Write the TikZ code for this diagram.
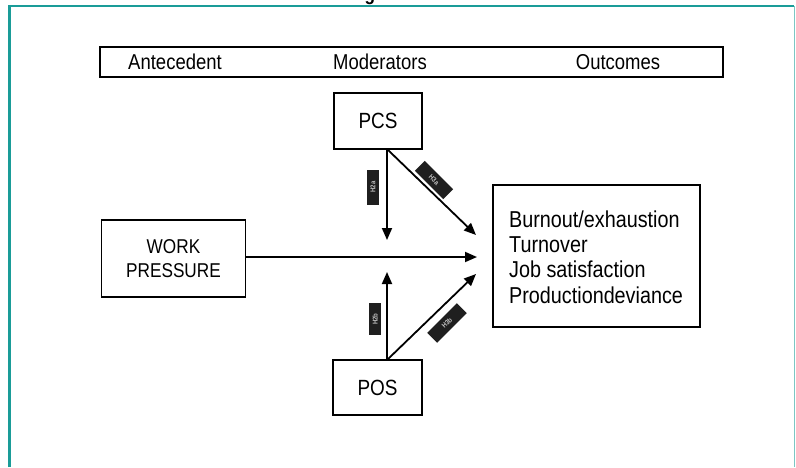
\documentclass[tikz,border=0pt]{standalone}
\usepackage{fontspec}
\setmainfont{Liberation Sans}[FakeStretch=0.86]
\usetikzlibrary{arrows.meta}
\definecolor{frameteal}{HTML}{1A9C98}
\definecolor{frameteallight}{HTML}{7CC6C3}
\tikzset{
  box/.style={draw=black, line width=1.1pt, inner sep=0pt},
  conn/.style={line width=1.8pt, -{Triangle[length=12pt,width=10pt]}},
  lab/.style={fill=black!88, text=white!75!black, inner sep=0pt,
    font=\fontsize{7}{7}\selectfont\bfseries, minimum height=12pt},
  headtext/.style={font=\fontsize{21.5}{21.5}\selectfont}
}
\begin{document}
\begin{tikzpicture}[x=1pt,y=-1pt]
\useasboundingbox (0,0) rectangle (796,467);
% frame
\draw[frameteal, line width=2.5pt] (9.5,467) -- (9.5,6) -- (794,6);
\draw[frameteallight, line width=1.5pt] (794.5,6) -- (794.5,467);
\node[anchor=base, font=\fontsize{20}{20}\selectfont\bfseries] (title) at (370,0.3) {g};
% header
\node[box, minimum width=623pt, minimum height=30pt] (head) at (411.5,62) {};
\node[headtext] (ante) at (175,62) {Antecedent};
\node[headtext] (mod) at (380,62) {Moderators};
\node[headtext] (outc) at (618,62) {Outcomes};
% boxes
\node[box, minimum width=88pt, minimum height=56pt, font=\fontsize{22}{22}\selectfont] (pcs) at (378,121) {PCS};
\node[box, minimum width=89pt, minimum height=55pt, font=\fontsize{22}{22}\selectfont] (pos) at (377.5,387.5) {POS};
\node[box, minimum width=144pt, minimum height=77pt, align=center,
  font=\fontsize{20}{24}\selectfont] (work) at (173.5,258.5) {WORK\\PRESSURE};
\node[box, minimum width=207pt, minimum height=142pt] (outbox) at (596.5,256) {};
\node[anchor=north west, align=left, inner sep=0pt,
  font=\fontsize{23}{25.3}\selectfont] (outtext) at (509,210.5)
  {Burnout/exhaustion\\Turnover\\Job satisfaction\\Productiondeviance};
% connector ends
\coordinate (pcsout) at (387,149);
\coordinate (posout) at (387,360);
\coordinate (downend) at (387,240);
\coordinate (upend) at (387,272);
\coordinate (d1end) at (476,235);
\coordinate (d2end) at (476,274);
\coordinate (hend) at (477,257);
\draw[conn] (pcsout) -- (downend);
\draw[conn] (pcsout) -- (d1end);
\draw[conn] (posout) -- (upend);
\draw[conn] (posout) -- (d2end);
\draw[conn] (work.east |- hend) -- (hend);
% labels
\node[lab, rotate=90, minimum width=35pt] (l1) at (373,187) {H2a};
\node[lab, rotate=-45, minimum width=40pt, minimum height=14pt] (l2) at (434,180) {H3a};
\node[lab, rotate=90, minimum width=32pt] (l3) at (375,319) {H2b};
\node[lab, rotate=45, minimum width=42pt, minimum height=14pt] (l4) at (447,323) {H3b};
\end{tikzpicture}
\end{document}
